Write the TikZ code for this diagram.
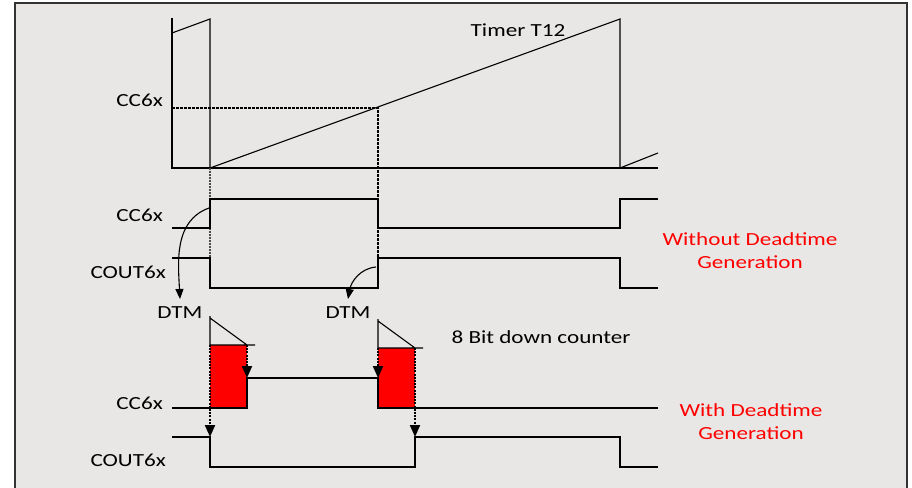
\documentclass[tikz,border=0pt]{standalone}
\usepackage{fontspec}
\setmainfont{Carlito}[FakeStretch=1.25]
\usetikzlibrary{arrows.meta}
\definecolor{bggray}{HTML}{E8E7E5}
\begin{document}
\begin{tikzpicture}[x=1pt,y=-1pt,
	sig/.style={line width=2.8pt},
	fine/.style={line width=1.1pt},
	lbl/.style={font=\fontsize{18.5}{23}\selectfont,inner sep=0pt},
	note/.style={lbl,text=red,align=center},
	curvearrow/.style={fine,-{Triangle[length=10pt,width=8pt]}},
	dtmarrow/.style={-{Triangle[length=12pt,width=10pt]},line width=2pt,dash pattern=on 2pt off 1.2pt}]
	\useasboundingbox (0,0) rectangle (912,487);
	\fill[white] (0,0) rectangle (912,487);
	\draw[fill=bggray,line width=1.5pt,draw=black!80] (15,3) rectangle (907,500);
	% timer T12
	\draw[sig] (172,18)--(172,168)--(658,168);
	\draw[fine] (172,33)--(210,19)--(210,168)--(620,19)--(620,168)--(658,153);
	\draw[line width=1.6pt,dash pattern=on 2.5pt off 1.5pt] (172,108)--(378,108)--(378,288);
	\draw[line width=1.2pt,dash pattern=on 1.5pt off 1.5pt,black!70] (210,168)--(210,288);
	\node[lbl] (timer) at (518,30) {Timer T12};
	\node[lbl,anchor=east] (cmp) at (163,100) {CC6x};
	% without deadtime
	\draw[sig] (172,228)--(210,228)--(210,199)--(378,199)--(378,228)--(620,228)--(620,199)--(658,199);
	\draw[sig] (172,258)--(210,258)--(210,288)--(378,288)--(378,258)--(620,258)--(620,288)--(658,288);
	\node[lbl,anchor=east] (ccA) at (163,215) {CC6x};
	\node[lbl,anchor=east] (coutA) at (166,272) {COUT6x};
	\node[note] (noDT) at (750,251) {Without Deadtime\\Generation};
	\node[lbl] (dtmA) at (180,313) {DTM};
	\node[lbl] (dtmB) at (348,313) {DTM};
	\coordinate (edgeA) at (209,208);
	\coordinate (edgeB) at (376,267);
	\coordinate (tipA) at (180,299);
	\coordinate (tipB) at (348,299);
	\draw[curvearrow] (edgeA) to[out=200,in=93] (tipA);
	\draw[curvearrow] (edgeB) to[out=185,in=80] (tipB);
	% with deadtime
	\fill[red] (210,345) rectangle (247,408);
	\fill[red] (378,348) rectangle (415,408);
	\draw[fine] (210,316)--(210,345)--(255,345) (210,318)--(247,345);
	\draw[fine] (378,319)--(378,348)--(423,348) (378,321)--(415,348);
	\draw[sig] (172,408)--(247,408)--(247,378)--(378,378)--(378,408)--(658,408);
	\draw[sig] (172,437)--(210,437)--(210,467)--(415,467)--(415,437)--(620,437)--(620,467)--(658,467);
	\coordinate (startA) at (210,345);
	\coordinate (endA) at (247,345);
	\coordinate (startB) at (378,348);
	\coordinate (endB) at (415,348);
	\draw[dtmarrow] (startA)--(210,437);
	\draw[dtmarrow] (endA)--(247,378);
	\draw[dtmarrow] (startB)--(378,378);
	\draw[dtmarrow] (endB)--(415,437);
	\node[lbl] (cnt) at (541,337) {8 Bit down counter};
	\node[lbl,anchor=east] (ccB) at (163,403) {CC6x};
	\node[lbl,anchor=east] (coutB) at (166,460) {COUT6x};
	\node[note] (withDT) at (751,422) {With Deadtime\\Generation};
\end{tikzpicture}
\end{document}
